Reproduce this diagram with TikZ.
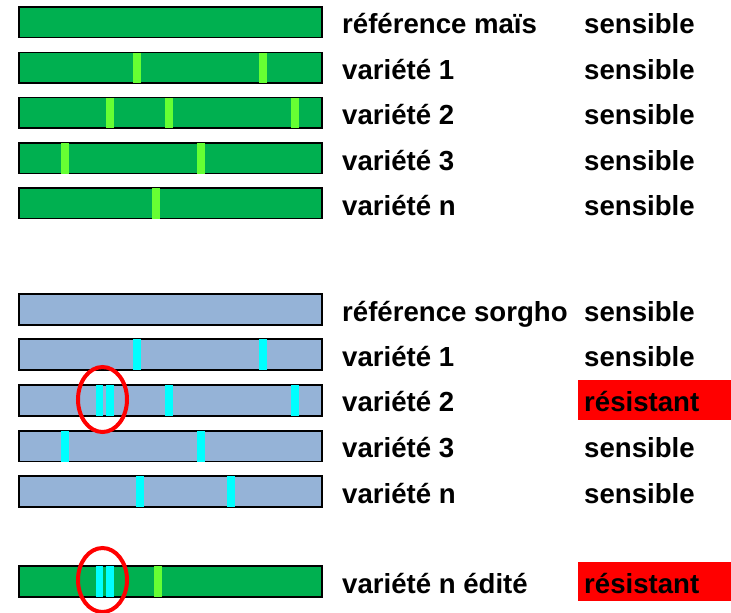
\documentclass[tikz,border=0pt]{standalone}
\usepackage{fontspec}
\setmainfont{Liberation Sans}
\definecolor{maize}{RGB}{0,176,80}
\definecolor{maizesnp}{RGB}{102,255,51}
\definecolor{sorgho}{RGB}{149,179,215}
\definecolor{sorghosnp}{RGB}{0,255,255}
\begin{document}
\begin{tikzpicture}[x=1pt,y=-1pt,
   mbar/.style={fill=maize,draw=black,line width=1.6pt},
   sbar/.style={fill=sorgho,draw=black,line width=1.6pt},
   lab/.style={anchor=base west,inner sep=0pt,font=\fontsize{27.6}{32}\selectfont\bfseries},
   ring/.style={draw=red,line width=4pt}]
   \useasboundingbox (0,0) rectangle (731,613);
   % mais
   \draw[mbar] (19,7) rectangle (322,37.5);
   \draw[mbar] (19,52.5) rectangle (322,83);
   \draw[mbar] (19,97.5) rectangle (322,128);
   \draw[mbar] (19,143) rectangle (322,173.5);
   \draw[mbar] (19,188) rectangle (322,218.5);
   \fill[maizesnp] (133,52.5) rectangle (141,83);
   \fill[maizesnp] (259,52.5) rectangle (267,83);
   \fill[maizesnp] (106,97.5) rectangle (114,128);
   \fill[maizesnp] (165,97.5) rectangle (173,128);
   \fill[maizesnp] (291,97.5) rectangle (299,128);
   \fill[maizesnp] (61,143) rectangle (69,173.5);
   \fill[maizesnp] (197,143) rectangle (205,173.5);
   \fill[maizesnp] (152,188) rectangle (160,218.5);
   \node[lab] (m0) at (342,34) {référence maïs};
   \node[lab] (m1) at (342,79.5) {variété 1};
   \node[lab] (m2) at (342,124.5) {variété 2};
   \node[lab] (m3) at (342,170) {variété 3};
   \node[lab] (m4) at (342,215) {variété n};
   \node[lab] (mr0) at (584,34) {sensible};
   \node[lab] (mr1) at (584,79.5) {sensible};
   \node[lab] (mr2) at (584,124.5) {sensible};
   \node[lab] (mr3) at (584,170) {sensible};
   \node[lab] (mr4) at (584,215) {sensible};
   % sorgho
   \draw[sbar] (19,294) rectangle (322,325);
   \draw[sbar] (19,339) rectangle (322,370);
   \draw[sbar] (19,385) rectangle (322,416);
   \draw[sbar] (19,431) rectangle (322,461.5);
   \draw[sbar] (19,476) rectangle (322,507);
   \fill[sorghosnp] (133,339) rectangle (141,370);
   \fill[sorghosnp] (259,339) rectangle (267,370);
   \fill[sorghosnp] (96,385) rectangle (103,416);
   \fill[sorghosnp] (106,385) rectangle (114,416);
   \fill[sorghosnp] (165,385) rectangle (173,416);
   \fill[sorghosnp] (291,385) rectangle (299,416);
   \fill[sorghosnp] (61,431) rectangle (69,461.5);
   \fill[sorghosnp] (197,431) rectangle (205,461.5);
   \fill[sorghosnp] (136,476) rectangle (144,507);
   \fill[sorghosnp] (227,476) rectangle (235,507);
   \draw[ring] (102.5,399.5) ellipse [x radius=24.5,y radius=32.5];
   \fill[red] (578,380) rectangle (731,419.5);
   \node[lab] (s0) at (342,321) {référence sorgho};
   \node[lab] (s1) at (342,366) {variété 1};
   \node[lab] (s2) at (342,411) {variété 2};
   \node[lab] (s3) at (342,457.5) {variété 3};
   \node[lab] (s4) at (342,503) {variété n};
   \node[lab] (sr0) at (584,321) {sensible};
   \node[lab] (sr1) at (584,366) {sensible};
   \node[lab] (sr2) at (584,411) {résistant};
   \node[lab] (sr3) at (584,457.5) {sensible};
   \node[lab] (sr4) at (584,503) {sensible};
   % edite
   \draw[mbar] (19,566) rectangle (322,597);
   \fill[sorghosnp] (96,566) rectangle (103,597);
   \fill[sorghosnp] (106,566) rectangle (114,597);
   \fill[maizesnp] (154,566) rectangle (162,597);
   \draw[ring] (102.5,580) ellipse [x radius=24.5,y radius=32];
   \fill[red] (578,562) rectangle (731,601);
   \node[lab] (e0) at (342,593) {variété n édité};
   \node[lab] (er0) at (584,593) {résistant};
  \end{tikzpicture}
\end{document}
